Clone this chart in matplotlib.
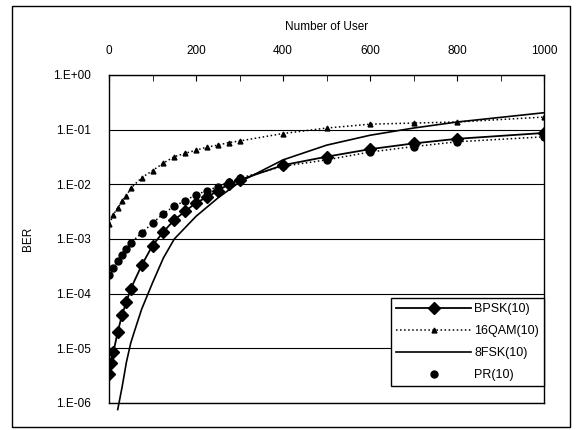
import matplotlib
matplotlib.use('Agg')
import matplotlib.pyplot as plt
from matplotlib.patches import Rectangle

# number of users on each curve
users = [1, 5, 10, 20, 30, 40, 50, 75, 100, 125, 150, 175, 200, 225, 250, 275, 300,
         400, 500, 600, 700, 800, 1000]
users_short = [1, 10, 20, 30, 40, 50, 75, 100, 125, 150, 175, 200, 225, 250, 275, 300,
               400, 500, 600, 700, 800, 1000]
users_fsk = [20, 30, 40, 50, 60, 75, 100, 125, 150, 200, 250, 300,
             400, 500, 600, 700, 800, 1000]

ber_bpsk = [3.4e-6, 5.4e-6, 8.5e-6, 2.0e-5, 4.1e-5, 7.1e-5, 1.23e-4, 3.3e-4, 7.6e-4,
            1.35e-3, 2.24e-3, 3.2e-3, 4.6e-3, 5.8e-3, 7.6e-3, 1.0e-2, 1.2e-2,
            2.24e-2, 3.2e-2, 4.4e-2, 5.6e-2, 6.8e-2, 8.7e-2]
ber_16qam = [1.9e-3, 2.8e-3, 3.7e-3, 4.9e-3, 6.2e-3, 8.5e-3, 1.32e-2, 1.78e-2, 2.45e-2,
             3.2e-2, 3.7e-2, 4.2e-2, 4.8e-2, 5.2e-2, 5.8e-2, 6.2e-2,
             8.5e-2, 1.07e-1, 1.26e-1, 1.32e-1, 1.38e-1, 1.7e-1]
ber_8fsk = [7.6e-7, 1.95e-6, 5.6e-6, 1.26e-5, 2.24e-5, 5.2e-5, 1.58e-4, 4.5e-4, 1.0e-3,
            2.6e-3, 5.6e-3, 1.1e-2, 2.8e-2, 5.2e-2, 7.9e-2, 1.07e-1, 1.38e-1, 2.04e-1]
ber_pr = [2.2e-4, 2.95e-4, 3.9e-4, 5.1e-4, 6.6e-4, 8.5e-4, 1.29e-3, 1.95e-3, 2.9e-3,
          4.0e-3, 5.0e-3, 6.5e-3, 7.6e-3, 9.1e-3, 1.1e-2, 1.29e-2,
          2.14e-2, 2.8e-2, 3.9e-2, 4.9e-2, 6.0e-2, 7.4e-2]

x_ticks = [0, 200, 400, 600, 800, 1000]
y_ticks = [1e0, 1e-1, 1e-2, 1e-3, 1e-4, 1e-5, 1e-6]
y_tick_labels = ['1.E+00', '1.E-01', '1.E-02', '1.E-03', '1.E-04', '1.E-05', '1.E-06']


def plot_ber():
    plt.rcParams['font.family'] = ['Liberation Sans', 'DejaVu Sans']
    fig = plt.figure(figsize=(5.79, 4.30), dpi=100)
    ax = fig.add_axes([0.1883, 0.0628, 0.7513, 0.7628])

    ax.plot(users, ber_bpsk, '-', color='black', lw=1.3, marker='D', markersize=6,
            label='BPSK(10)', zorder=4)
    ax.plot(users_short, ber_16qam, ':', color='black', lw=1.1, marker='^', markersize=3.5,
            label='16QAM(10)', zorder=3)
    ax.plot(users_fsk, ber_8fsk, '-', color='black', lw=1.2, label='8FSK(10)',
            clip_on=False, zorder=3)
    ax.plot(users_short, ber_pr, ':', color='black', lw=1.1, zorder=3)
    ax.plot(users_short, ber_pr, 'o', color='black', markersize=5, label='PR(10)', zorder=3)

    ax.set_yscale('log')
    ax.set_ylim(1e-6, 1e0)
    ax.set_xlim(0, 1000)
    ax.minorticks_off()
    ax.set_yticks(y_ticks)
    ax.set_yticklabels(y_tick_labels)
    ax.set_xticks(x_ticks)
    ax.set_xticks([100, 300, 500, 700, 900], minor=True)

    ax.xaxis.tick_top()
    ax.xaxis.set_label_position('top')
    ax.tick_params(axis='x', which='both', direction='in', length=4, pad=13, labelsize=8.5)
    ax.tick_params(axis='y', length=0, pad=13, labelsize=8.5)
    ax.set_xlabel('Number of User', fontsize=8.5, labelpad=11)
    ax.set_ylabel('BER', fontsize=8.5, labelpad=14)

    ax.yaxis.grid(True, color='black', lw=0.8)
    for spine in ax.spines.values():
        spine.set_linewidth(1.0)

    legend = ax.legend(loc='lower right', bbox_to_anchor=(1.0, 0.052), borderaxespad=0,
                       fontsize=9, handlelength=6.0, handletextpad=0.25,
                       labelspacing=0.8, fancybox=False, framealpha=1, edgecolor='black')
    legend.get_frame().set_linewidth(1.0)

    fig.patches.append(Rectangle((12 / 579, 3 / 430), 558 / 579, 421 / 430,
                                 transform=fig.transFigure, fill=False,
                                 edgecolor='black', lw=1.0))

    fig.savefig('out.png', dpi=100)


plot_ber()
